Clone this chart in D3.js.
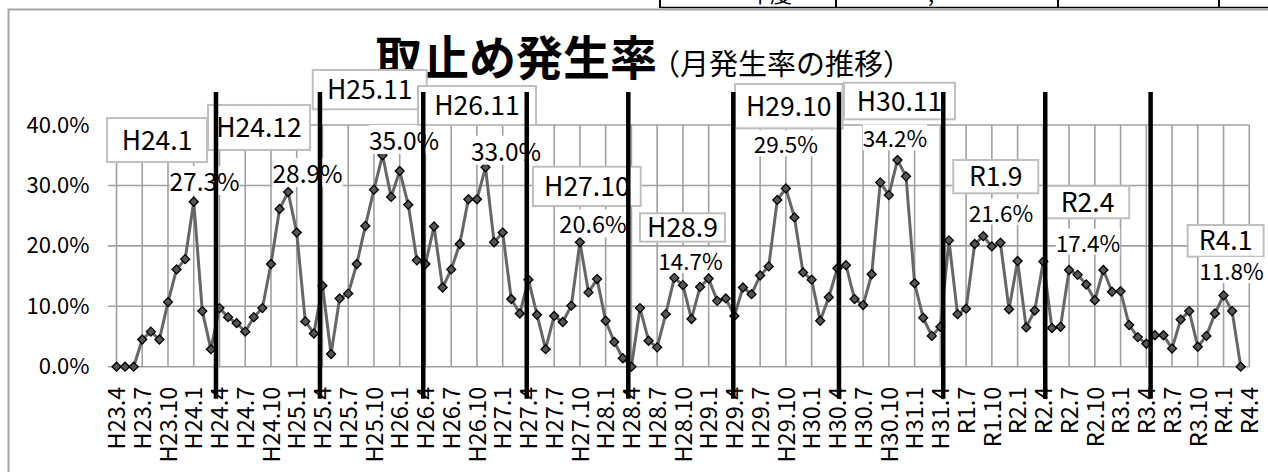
<!DOCTYPE html>
<html>
<head>
<meta charset="utf-8">
<script src="https://cdn.jsdelivr.net/npm/d3@7"></script>
<style>
  body { margin: 0; background: #fff; }
  svg text { font-family: "Noto Sans CJK JP", "Noto Sans", sans-serif; fill: #000; }
</style>
</head>
<body>
<div class="chart"></div>
<script>
var svgWidth = 1268;
var svgHeight = 472;

// month labels H23.4 ... R4.4 (one per month)
var months = [];
for (var yy = 23; yy <= 31; yy++) {
  for (var mm = 1; mm <= 12; mm++) {
    if (yy === 23 && mm < 4) continue;
    if (yy === 31 && mm > 4) break;
    months.push("H" + yy + "." + mm);
  }
}
for (var ry = 1; ry <= 4; ry++) {
  for (var rm = 1; rm <= 12; rm++) {
    if (ry === 1 && rm < 5) continue;
    if (ry === 4 && rm > 4) break;
    months.push("R" + ry + "." + rm);
  }
}

// monthly rate (%), H23.4 -> R4.3
var rate = [
  0.0, 0.0, 0.0, 4.5, 5.8, 4.5, 10.7, 16.1, 17.8,
  27.3, 9.2, 2.9, 9.7, 8.2, 7.2, 5.8, 8.2, 9.7, 17.0, 26.1, 28.9,
  22.2, 7.5, 5.5, 13.4, 2.1, 11.3, 12.1, 17.0, 23.3, 29.3, 35.0, 28.1,
  32.4, 26.8, 17.6, 17.0, 23.2, 13.1, 16.1, 20.3, 27.7, 27.7, 33.0, 20.6,
  22.2, 11.2, 8.8, 14.4, 8.6, 2.9, 8.4, 7.4, 10.1, 20.6, 12.3, 14.5,
  7.6, 4.1, 1.4, 0.0, 9.7, 4.3, 3.2, 8.7, 14.7, 13.5, 7.9, 13.2,
  14.6, 10.9, 11.3, 8.4, 13.1, 12.0, 15.1, 16.6, 27.6, 29.5, 24.7, 15.6,
  14.4, 7.6, 11.5, 16.3, 16.8, 11.2, 10.2, 15.3, 30.5, 28.4, 34.2, 31.5,
  13.8, 8.1, 5.1, 6.6, 20.9, 8.7, 9.6, 20.3, 21.6, 19.9, 20.5, 9.5,
  17.5, 6.5, 9.3, 17.4, 6.4, 6.6, 16.0, 15.2, 13.6, 11.0, 16.0, 12.4,
  12.5, 6.9, 4.9, 3.8, 5.2, 5.2, 3.0, 7.8, 9.2, 3.3, 5.1, 8.8,
  11.8, 9.2, 0.0
];

var yTicks = [0, 10, 20, 30, 40];

// peak call-outs
var peakMonths = ["H24.1", "H24.12", "H25.11", "H26.11", "H27.10", "H28.9", "H29.10", "H30.11", "R1.9", "R2.4", "R4.1"];
var peakLabels = ["27.3%", "28.9%", "35.0%", "33.0%", "20.6%", "14.7%", "29.5%", "34.2%", "21.6%", "17.4%", "11.8%"];

// fiscal year separators
var yearStarts = ["H24.4", "H25.4", "H26.4", "H27.4", "H28.4", "H29.4", "H30.4", "H31.4", "R2.4", "R3.4"];

// call-out layout relative to the point: box dx, box dy(top), box w, box h, label dx, label dy(baseline), label size
var calloutLayout = [
  [-86.7, -83.7, 100, 44, 10.8, -10.7, 24.5],
  [-80.1, -87.1, 102, 45, 19.4, -9.1, 24.5],
  [-69.8, -85.2, 114, 39.3, 21.5, -5.2, 24.5],
  [-67.5, -81.3, 118, 39, 20.5, -6.6, 24.5],
  [-46.9, -75.5, 107.7, 39.3, 13.1, -8.9, 23.5],
  [-34.3, -64.6, 85, 28.4, 16.2, -7.9, 22.5],
  [-50.9, -104.4, 107.7, 44.3, 0, -35.1, 22.5],
  [-53.5, -77.3, 111, 36.6, -2.5, -12.7, 22.5],
  [-30, -76.2, 85, 33.3, 17.7, -14.5, 22.5],
  [2.6, -75.6, 83.3, 32.3, 44.6, -9.9, 22.5],
  [-35.9, -70.4, 76, 31.7, 7.9, -15.4, 22.5]
];
// hand drawn separators are slightly off the month positions
var sepShift = [-3.5, -2.5, -2.2, -1.7, -3.1, -1.1, 1.6, 2.9, 1.9, 4.3];

var svg = d3.select(".chart")
  .append("svg")
  .attr("width", svgWidth)
  .attr("height", svgHeight);

var x = d3.scalePoint()
  .domain(months)
  .range([116.5, 1249.3]);

var y = d3.scaleLinear()
  .domain([0, 40])
  .range([366.7, 125]);

// bits of the table above the chart
var tbl = svg.append("g");
tbl.append("line").attr("x1", 660).attr("x2", svgWidth).attr("y1", 7.5).attr("y2", 7.5)
  .attr("stroke", "#000").attr("stroke-width", 1.5);
[660, 836, 1058, 1219].forEach(function(tx) {
  tbl.append("line").attr("x1", tx).attr("x2", tx).attr("y1", 0).attr("y2", 8)
    .attr("stroke", "#000").attr("stroke-width", 2);
});
tbl.append("text").attr("x", 748).attr("y", 2).attr("font-size", 22).text("年度");
tbl.append("text").attr("x", 928).attr("y", 2).attr("font-size", 22).text(",");

// chart frame
svg.append("path")
  .attr("d", "M8.5," + svgHeight + "V9.5H" + svgWidth)
  .attr("fill", "none")
  .attr("stroke", "#a6a6a6")
  .attr("stroke-width", 2);

// title
var title = svg.append("text")
  .attr("x", 375)
  .attr("y", 75);
title.append("tspan").attr("font-size", 47).attr("font-weight", "bold").text("取止め発生率");
title.append("tspan").attr("font-size", 29).attr("dx", -6).text("（月発生率の推移）");

// grid
var grid = svg.append("g").attr("stroke", "#a0a0a0").attr("stroke-width", 1.6);
grid.selectAll(".hg")
  .data(yTicks)
  .enter()
  .append("line")
  .attr("x1", 108)
  .attr("x2", x.range()[1])
  .attr("y1", d => y(d))
  .attr("y2", d => y(d));
grid.selectAll(".vg")
  .data(months.filter((d, i) => i % 3 === 0))
  .enter()
  .append("line")
  .attr("x1", d => x(d))
  .attr("x2", d => x(d))
  .attr("y1", y(40))
  .attr("y2", y(0));

// y axis labels
var leftAxis = d3.axisLeft(y)
  .tickValues(yTicks)
  .tickSize(0)
  .tickPadding(27)
  .tickFormat(d => d.toFixed(1) + "%");
var yAxis = svg.append("g")
  .attr("transform", `translate(${x.range()[0]}, 0)`)
  .call(leftAxis);
yAxis.select(".domain").remove();
yAxis.selectAll("text")
  .attr("font-size", 22)
  .attr("font-family", null)
  .attr("fill", "#000");

// x axis labels, rotated
var bottomAxis = d3.axisBottom(x)
  .tickValues(months.filter((d, i) => i % 3 === 0))
  .tickSize(0);
var xAxis = svg.append("g")
  .attr("transform", `translate(0, ${y(0)})`)
  .call(bottomAxis);
xAxis.select(".domain").remove();
xAxis.selectAll("text")
  .attr("font-size", 23.5)
  .attr("font-family", null)
  .attr("fill", "#000")
  .attr("text-anchor", "end")
  .attr("dy", "0.35em")
  .attr("y", 0)
  .attr("transform", "translate(0, 20) rotate(-90)");

// data line
var pts = rate.map((v, i) => ({ m: months[i], v: v }));
svg.append("path")
  .datum(pts)
  .attr("fill", "none")
  .attr("stroke", "#666666")
  .attr("stroke-width", 3)
  .attr("stroke-linejoin", "round")
  .attr("d", d3.line().x(d => x(d.m)).y(d => y(d.v)));

svg.append("g")
  .selectAll("path")
  .data(pts)
  .enter()
  .append("path")
  .attr("transform", d => `translate(${x(d.m)}, ${y(d.v)})`)
  .attr("d", "M0,-4.5L4.5,0L0,4.5L-4.5,0Z")
  .attr("fill", "#555555")
  .attr("stroke", "#000")
  .attr("stroke-width", 1.3);

// call-outs
var callouts = svg.append("g");
peakMonths.forEach(function(m, i) {
  var L = calloutLayout[i];
  var px = x(m);
  var py = y(rate[months.indexOf(m)]);
  var g = callouts.append("g");
  g.append("rect")
    .attr("x", px + L[0])
    .attr("y", py + L[1])
    .attr("width", L[2])
    .attr("height", L[3])
    .attr("fill", "#fff")
    .attr("stroke", "#bfbfbf")
    .attr("stroke-width", 2);
  g.append("text")
    .attr("x", px + L[0] + L[2] / 2)
    .attr("y", py + L[1] + L[3] / 2 + 9.5)
    .attr("text-anchor", "middle")
    .attr("font-size", 26.5)
    .text(m);
  var lbl = g.append("text")
    .attr("x", px + L[4])
    .attr("y", py + L[5])
    .attr("text-anchor", "middle")
    .attr("font-size", L[6])
    .text(peakLabels[i]);
  var bb = lbl.node().getBBox();
  g.insert("rect", "text:last-child")
    .attr("x", bb.x)
    .attr("y", bb.y + 3)
    .attr("width", bb.width)
    .attr("height", bb.height - 6)
    .attr("fill", "#fff");
});

// thick fiscal year lines
svg.append("g")
  .selectAll("line")
  .data(yearStarts)
  .enter()
  .append("line")
  .attr("x1", (d, i) => x(d) + sepShift[i])
  .attr("x2", (d, i) => x(d) + sepShift[i])
  .attr("y1", y(40) - 33)
  .attr("y2", y(0) + 32)
  .attr("stroke", "#000")
  .attr("stroke-width", 4.5);
</script>
</body>
</html>
